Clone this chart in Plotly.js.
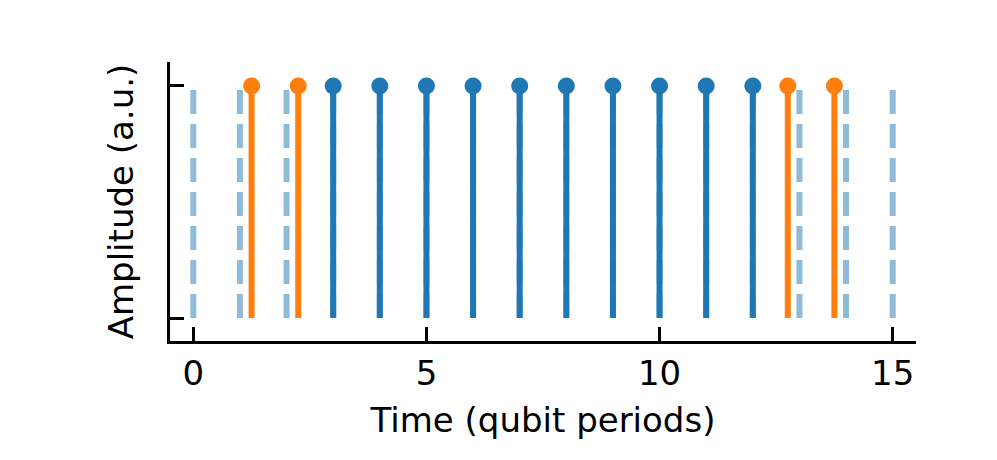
<!DOCTYPE html>
<html>
<head>
<meta charset="utf-8">
<script src="https://cdn.plot.ly/plotly-3.0.1.min.js"></script>
<style>html,body{margin:0;padding:0;background:#fff;}#chart{width:997px;height:460px;}</style>
</head>
<body>
<div id="chart"></div>
<script>
// Data
const gridTimes = [0,1,2,3,4,5,6,7,8,9,10,11,12,13,14,15];
const blueTimes = [3,4,5,6,7,8,9,10,11,12];
const blueAmps  = [1,1,1,1,1,1,1,1,1,1];
const orangeTimes = [1.25,2.25,12.75,13.75];
const orangeAmps  = [1,1,1,1];
const xTickVals = [0,5,10,15];
const xTickText = ['0','5','10','15'];

const BLUE = '#1f77b4', ORANGE = '#ff7f0e', LIGHT = 'rgba(31,119,180,0.5)';

function stemXY(xs, ys) {
  const X = [], Y = [];
  xs.forEach((x, i) => { X.push(x, x, null); Y.push(0, ys[i], null); });
  return {X, Y};
}

const traces = [];
const g = stemXY(gridTimes, gridTimes.map(() => 1));
traces.push({x: g.X, y: g.Y, mode: 'lines', type: 'scatter', hoverinfo: 'skip',
  line: {color: LIGHT, width: 6, dash: '24px,10px'}, showlegend: false});
const o = stemXY(orangeTimes, orangeAmps);
traces.push({x: o.X, y: o.Y, mode: 'lines', type: 'scatter', line: {color: ORANGE, width: 6}, showlegend: false});
traces.push({x: orangeTimes, y: orangeAmps, mode: 'markers', type: 'scatter', marker: {color: ORANGE, size: 17}, showlegend: false});
const b = stemXY(blueTimes, blueAmps);
traces.push({x: b.X, y: b.Y, mode: 'lines', type: 'scatter', line: {color: BLUE, width: 6}, showlegend: false});
traces.push({x: blueTimes, y: blueAmps, mode: 'markers', type: 'scatter', marker: {color: BLUE, size: 17}, showlegend: false});

const font = {family: 'DejaVu Sans', size: 34, color: '#000'};
const layout = {
  width: 997, height: 460,
  margin: {l: 170, r: 81, t: 62, b: 119},
  paper_bgcolor: '#fff', plot_bgcolor: '#fff',
  font: font,
  xaxis: {
    range: [-0.5, 15.5], showgrid: false, zeroline: false,
    showline: true, linecolor: '#000', linewidth: 3,
    ticks: 'inside', ticklen: 14, tickwidth: 3, tickcolor: '#000',
    tickvals: xTickVals, ticktext: xTickText, tickfont: font,
    title: {text: 'Time (qubit periods)', font: font, standoff: 17},
    automargin: false
  },
  yaxis: {
    range: [-0.099, 1.103], showgrid: false, zeroline: false,
    showline: true, linecolor: '#000', linewidth: 3,
    ticks: 'inside', ticklen: 14, tickwidth: 3, tickcolor: '#000',
    tickvals: [0, 1], showticklabels: false,
    title: {text: 'Amplitude (a.u.)', font: font, standoff: 24},
    automargin: false
  },
  showlegend: false
};
Plotly.newPlot('chart', traces, layout, {displayModeBar: false, staticPlot: true});
</script>
</body>
</html>
